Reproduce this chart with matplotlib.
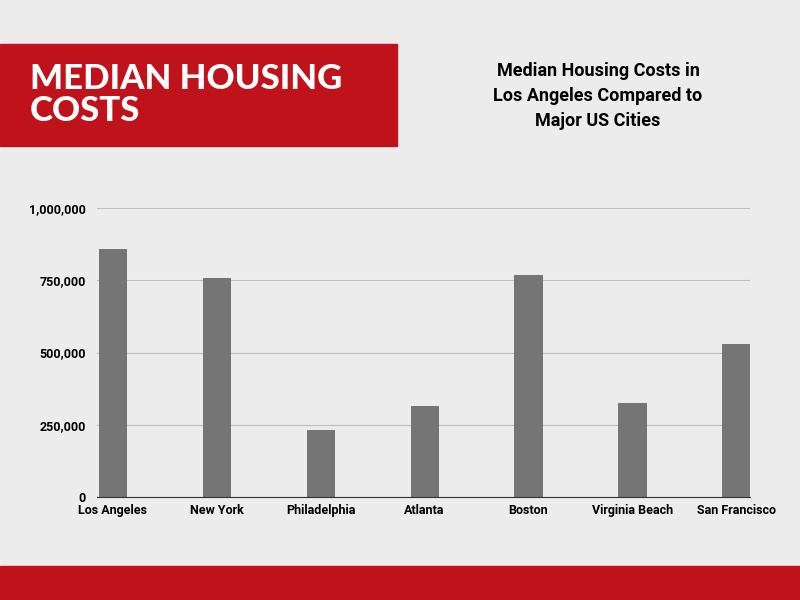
import matplotlib.pyplot as plt
from matplotlib.patches import Rectangle
from matplotlib.ticker import FuncFormatter

cities = ["Los Angeles", "New York", "Philadelphia", "Atlanta", "Boston",
          "Virginia Beach", "San Francisco"]
costs = [858000, 758000, 233000, 316000, 768000, 326000, 530000]
ticks = [0, 250000, 500000, 750000, 1000000]

bg = "#ececec"
red = "#c0121b"

fig = plt.figure(figsize=(8, 6), dpi=100, facecolor=bg)

# banners
fig.add_artist(Rectangle((0, 1 - 146/600), 397/800, 102/600, transform=fig.transFigure,
                         color=red, zorder=0))
fig.add_artist(Rectangle((0, 0), 1, 34/600, transform=fig.transFigure, color=red, zorder=0))
fig.text(30/800, 1 - 95/600, "MEDIAN HOUSING\nCOSTS", color="white", fontsize=25,
         fontweight="black", family="Lato", va="center", ha="left", linespacing=1.0)
fig.text(598/800, 1 - 96/600, "Median Housing Costs in\nLos Angeles Compared to\nMajor US Cities",
         ha="center", va="center", fontsize=13, fontweight="bold", family="Roboto",
         linespacing=1.5)

ax = fig.add_axes([97/800, 1 - 497/600, 653/800, 289/600], facecolor=bg)
ax.bar(range(len(cities)), costs, width=0.27, color="#757575", zorder=2)
ax.set_xlim(-0.15, 6.13)
ax.set_ylim(0, 1000000)
ax.set_yticks(ticks)
ax.yaxis.set_major_formatter(FuncFormatter(lambda v, p: f"{int(v):,}"))
ax.set_xticks(range(len(cities)))
ax.set_xticklabels(cities)
ax.grid(axis="y", color="#bdbdbd", linewidth=0.8, zorder=0)
for s in ["top", "right", "left"]:
    ax.spines[s].set_visible(False)
ax.spines["bottom"].set_color("#333333")
ax.tick_params(length=0, labelsize=9)
for lab in ax.get_xticklabels() + ax.get_yticklabels():
    lab.set_fontweight("bold")
    lab.set_family("Roboto")
ax.tick_params(axis="y", pad=8)
ax.tick_params(axis="x", pad=5)

fig.savefig("out.png", dpi=100, facecolor=bg)
